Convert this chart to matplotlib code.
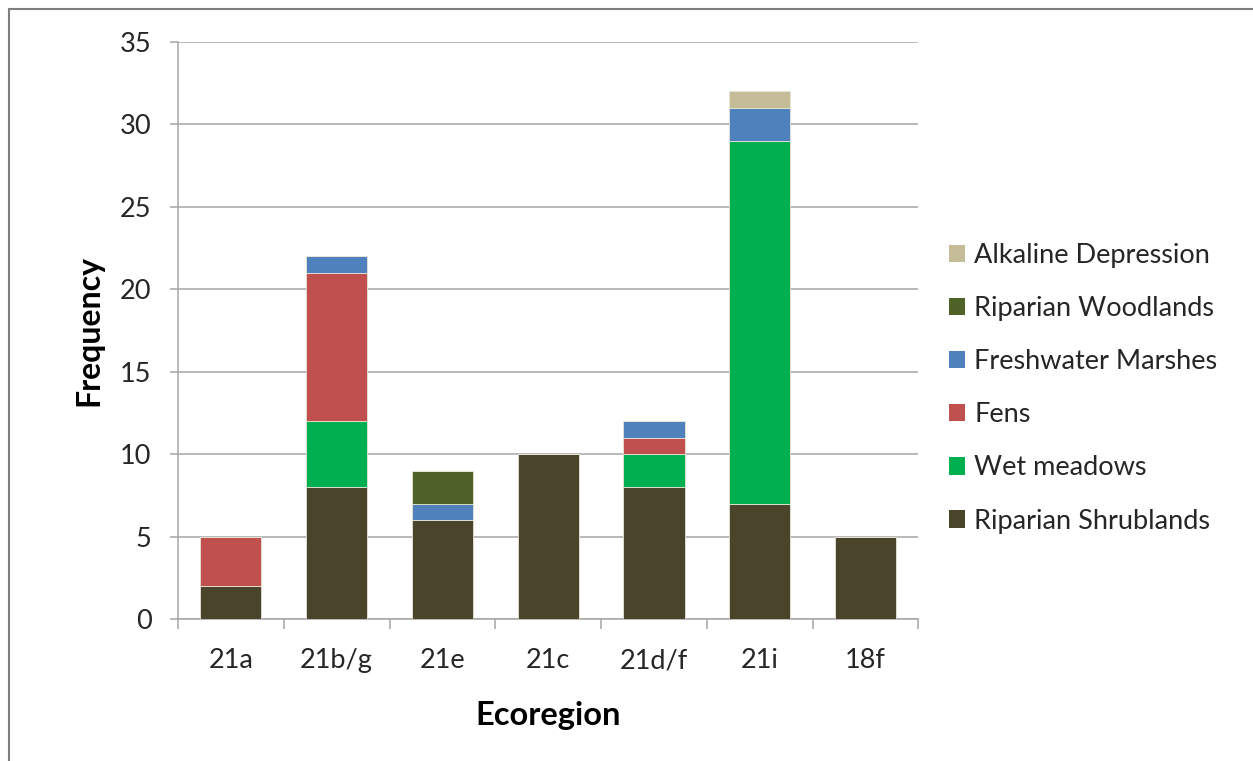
import matplotlib
matplotlib.use("Agg")
import matplotlib.pyplot as plt
from matplotlib.lines import Line2D
from matplotlib.patches import Patch
import numpy as np

plt.rcParams['font.family'] = ['Lato', 'DejaVu Sans']

regions = ["21a", "21b/g", "21e", "21c", "21d/f", "21i", "18f"]
riparian_shrublands = [2, 8, 6, 10, 8, 7, 5]
wet_meadows = [0, 4, 0, 0, 2, 22, 0]
fens = [3, 9, 0, 0, 1, 0, 0]
freshwater_marshes = [0, 1, 1, 0, 1, 2, 0]
riparian_woodlands = [0, 0, 2, 0, 0, 0, 0]
alkaline_depression = [0, 0, 0, 0, 0, 1, 0]

series = [
    ("Riparian Shrublands", riparian_shrublands, "#4A442A"),
    ("Wet meadows", wet_meadows, "#00B050"),
    ("Fens", fens, "#C0504D"),
    ("Freshwater Marshes", freshwater_marshes, "#4F81BD"),
    ("Riparian Woodlands", riparian_woodlands, "#4F6228"),
    ("Alkaline Depression", alkaline_depression, "#C4BD97"),
]

fig = plt.figure(figsize=(12.53, 7.61), dpi=100)
ax = fig.add_axes([0.142, 0.1866, 0.591, 0.7582])

x = np.arange(len(regions))
bottom = np.zeros(len(regions))
for name, vals, color in series:
    v = np.array(vals, dtype=float)
    ax.bar(x, v, bottom=bottom, width=0.58, color=color, edgecolor="#E8E4D8",
           linewidth=0.6, zorder=3, label=name)
    bottom += v

ax.set_xlim(-0.5, len(regions) - 0.5)
ax.set_ylim(0, 35)
ax.set_yticks(range(0, 36, 5))
ax.yaxis.grid(True, color="#A6A6A6", linewidth=1.1, zorder=0)
ax.set_axisbelow(True)

for side in ("top", "right"):
    ax.spines[side].set_visible(False)
ax.spines["left"].set_color("#A6A6A6")
ax.spines["bottom"].set_color("#A6A6A6")
ax.spines["left"].set_linewidth(1.1)
ax.spines["bottom"].set_linewidth(1.1)

ax.set_xticks(x)
ax.set_xticklabels(regions, fontsize=19.5, color="#262626")
ax.tick_params(axis="x", which="major", length=0, pad=21)
ax.set_xticks(np.arange(-0.5, len(regions)), minor=True)
ax.tick_params(axis="x", which="minor", length=7, color="#A6A6A6", width=1.1)
ax.tick_params(axis="y", length=6, color="#A6A6A6", width=1.1, labelsize=19.5,
               labelcolor="#262626", pad=13)

ax.set_xlabel("Ecoregion", fontsize=23.5, fontweight="bold", labelpad=20)
ax.set_ylabel("Frequency", fontsize=23, fontweight="bold", labelpad=12)

handles = [Patch(facecolor=c, edgecolor="none", label=n) for n, _, c in reversed(series)]
leg = ax.legend(handles=handles, loc="center left", bbox_to_anchor=(1.008, 0.40),
                frameon=False, fontsize=19.5, handlelength=0.6, handleheight=0.6,
                handletextpad=0.35, labelspacing=1.04)
for t in leg.get_texts():
    t.set_color("#262626")

# outer frame (left and top edges)
fig.add_artist(Line2D([9 / 1253, 9 / 1253], [0, 1 - 9 / 761], transform=fig.transFigure,
                      color="#7F7F7F", linewidth=1.5))
fig.add_artist(Line2D([9 / 1253, 1], [1 - 9 / 761, 1 - 9 / 761], transform=fig.transFigure,
                      color="#7F7F7F", linewidth=1.5))

fig.savefig("out.png", dpi=100)
